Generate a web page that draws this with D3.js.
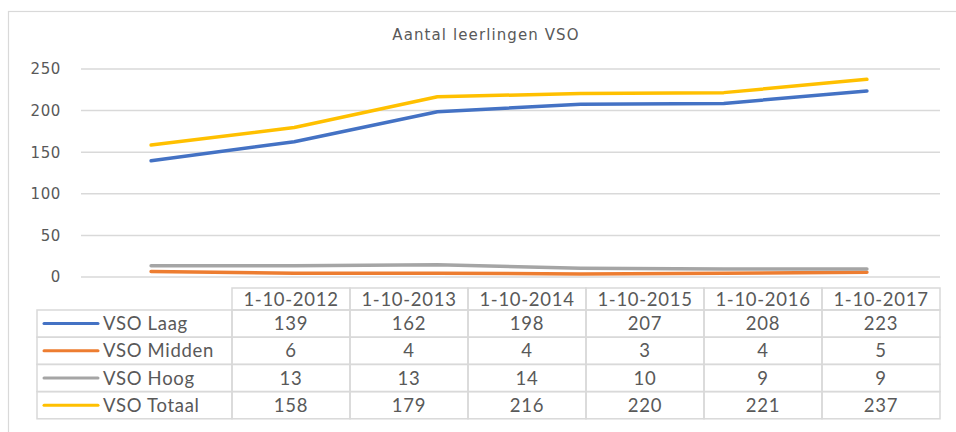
<!DOCTYPE html>
<html lang="nl">
<head>
	<meta charset="utf-8" />
	<title>Aantal leerlingen VSO</title>
	<script src="https://cdnjs.cloudflare.com/ajax/libs/d3/7.8.5/d3.min.js"></script>
	<style>
		body { margin: 0; background: #fff; }
		svg { display: block; }
		.axis-label { font-family: "DejaVu Sans", sans-serif; font-size: 15px; fill: #595959; }
		.cell { font-family: Lato, "Open Sans", sans-serif; font-size: 18.5px; fill: #595959; letter-spacing: 0.7px; }
	</style>
</head>
<body>
	<svg width="956" height="432"></svg>
	<script>
		// data
		const categories = ["1-10-2012", "1-10-2013", "1-10-2014", "1-10-2015", "1-10-2016", "1-10-2017"];
		const seriesNames = ["VSO Laag", "VSO Midden", "VSO Hoog", "VSO Totaal"];
		const laag   = [139, 162, 198, 207, 208, 223];
		const midden = [6, 4, 4, 3, 4, 5];
		const hoog   = [13, 13, 14, 10, 9, 9];
		const totaal = [158, 179, 216, 220, 221, 237];
		const yTicks = [0, 50, 100, 150, 200, 250];
		const colors = ["#4472C4", "#ED7D31", "#A5A5A5", "#FFC000"];

		const series = [laag, midden, hoog, totaal];
		const svg = d3.select('svg');
		const grey = '#d9d9d9';

		// chart frame (runs off the right and bottom edge)
		svg.append('rect')
			.attr('x', 8.5).attr('y', 11.5)
			.attr('width', 1000).attr('height', 1000)
			.attr('fill', 'none')
			.attr('stroke', grey)
			.attr('stroke-width', 1.2);

		svg.append('text')
			.attr('class', 'axis-label')
			.attr('x', 486).attr('y', 40)
			.attr('text-anchor', 'middle')
			.attr('font-size', '17px')
			.attr('letter-spacing', '1.1px')
			.text('Aantal leerlingen VSO');

		const x = d3.scaleBand()
			.domain(categories)
			.range([81, 940]);
		const y = d3.scaleLinear()
			.domain([0, 250])
			.range([276.5, 68.5]);

		// gridlines + y labels
		const yAxis = d3.axisLeft(y)
			.tickValues(yTicks)
			.tickSize(-(940 - 81))
			.tickPadding(20);
		const ga = svg.append('g')
			.attr('transform', 'translate(81,0)')
			.call(yAxis);
		ga.select('.domain').remove();
		ga.selectAll('.tick line').attr('stroke', grey).attr('stroke-width', 1.5);
		ga.selectAll('.tick text')
			.attr('class', 'axis-label')
			.attr('fill', null)
			.attr('font-family', null)
			.attr('font-size', null)
			.attr('letter-spacing', '0.6px')
			.attr('dy', '0.36em');

		const line = d3.line()
			.x((d, i) => x(categories[i]) + x.bandwidth() / 2 - 1.5)
			.y(d => y(d));

		svg.selectAll('path.series')
			.data(series)
			.enter()
			.append('path')
			.attr('class', 'series')
			.attr('d', line)
			.attr('fill', 'none')
			.attr('stroke', (d, i) => colors[i])
			.attr('stroke-width', 3.5)
			.attr('stroke-linecap', 'round')
			.attr('stroke-linejoin', 'round');

		// data table
		const tx = d3.scaleBand()
			.domain(categories)
			.range([232, 940]);
		const rowTop = 310, rowH = 27.2, headTop = 288;
		const ty = d3.scaleBand()
			.domain(seriesNames)
			.range([rowTop, rowTop + rowH * seriesNames.length]);
		const legendLeft = 37;

		const table = svg.append('g');
		table.selectAll('rect.head')
			.data(categories)
			.enter()
			.append('rect')
			.attr('x', d => tx(d))
			.attr('y', headTop)
			.attr('width', tx.bandwidth())
			.attr('height', rowTop - headTop)
			.attr('fill', 'none')
			.attr('stroke', grey)
			.attr('stroke-width', 1.5);
		table.selectAll('text.head')
			.data(categories)
			.enter()
			.append('text')
			.attr('class', 'cell')
			.attr('x', d => tx(d) + tx.bandwidth() / 2)
			.attr('y', headTop + (rowTop - headTop) / 2)
			.attr('dy', '0.36em')
			.attr('text-anchor', 'middle')
			.text(d => d);

		const rows = table.selectAll('g.row')
			.data(seriesNames)
			.enter()
			.append('g')
			.attr('class', 'row')
			.attr('transform', d => `translate(0,${ty(d)})`);
		rows.append('rect')
			.attr('x', legendLeft)
			.attr('width', 232 - legendLeft)
			.attr('height', ty.bandwidth())
			.attr('fill', 'none')
			.attr('stroke', grey)
			.attr('stroke-width', 1.5);
		rows.append('line')
			.attr('x1', 44).attr('x2', 98)
			.attr('y1', ty.bandwidth() / 2).attr('y2', ty.bandwidth() / 2)
			.attr('stroke', (d, i) => colors[i])
			.attr('stroke-width', 3)
			.attr('stroke-linecap', 'round');
		rows.append('text')
			.attr('class', 'cell')
			.attr('x', 103)
			.attr('y', ty.bandwidth() / 2)
			.attr('dy', '0.36em')
			.text(d => d);

		rows.each(function(name, si) {
			const g = d3.select(this);
			g.selectAll('rect.val')
				.data(categories)
				.enter()
				.append('rect')
				.attr('x', d => tx(d))
				.attr('width', tx.bandwidth())
				.attr('height', ty.bandwidth())
				.attr('fill', 'none')
				.attr('stroke', grey)
				.attr('stroke-width', 1.5);
			g.selectAll('text.val')
				.data(series[si])
				.enter()
				.append('text')
				.attr('class', 'cell')
				.attr('x', (d, i) => tx(categories[i]) + tx.bandwidth() / 2)
				.attr('y', ty.bandwidth() / 2)
				.attr('dy', '0.36em')
				.attr('text-anchor', 'middle')
				.text(d => d);
		});
	</script>
</body>
</html>
